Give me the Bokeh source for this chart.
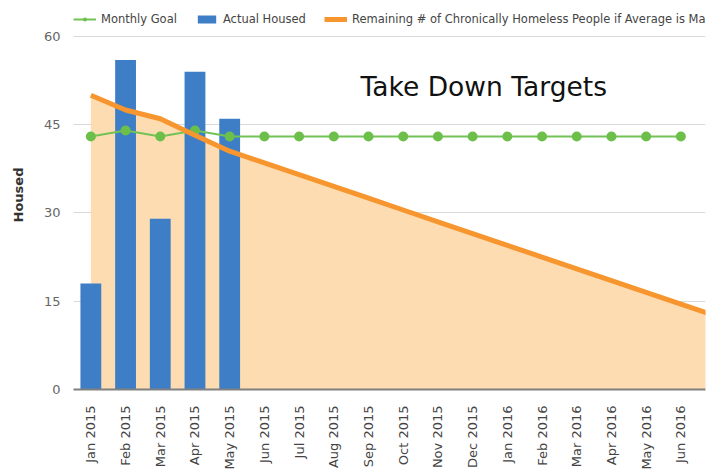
import math
from bokeh.plotting import figure
from bokeh.models import Range1d, Legend, LegendItem, Label, FixedTicker
from bokeh.embed import file_html
from bokeh.resources import INLINE

months = ["Jan 2015", "Feb 2015", "Mar 2015", "Apr 2015", "May 2015", "Jun 2015",
          "Jul 2015", "Aug 2015", "Sep 2015", "Oct 2015", "Nov 2015", "Dec 2015",
          "Jan 2016", "Feb 2016", "Mar 2016", "Apr 2016", "May 2016", "Jun 2016"]
monthly_goal = [43, 44, 43, 44, 43, 43, 43, 43, 43, 43, 43, 43, 43, 43, 43, 43, 43, 43]
actual_housed = [18, 56, 29, 54, 46]
# remaining chronically homeless (last value continues past the visible edge)
remaining = [50, 47.5, 46, 43.2, 40.5, 38.5, 36.5, 34.5, 32.5, 30.5, 28.5, 26.5,
             24.5, 22.5, 20.5, 18.5, 16.5, 14.5, 12.5]
y_ticks = [0, 15, 30, 45, 60]

FONT = "DejaVu Sans"

# the frame reaches the top of the canvas so the legend (drawn inside it) shows above the 60 line
p = figure(width=711, height=472, output_backend="svg", toolbar_location=None,
           x_range=Range1d(-0.5, 17.71), y_range=Range1d(0, 66.1),
           min_border_left=73, min_border_right=6, min_border_top=0,
           min_border_bottom=81)
p.outline_line_color = None

x_rem = list(range(len(remaining)))
x_goal = list(range(len(monthly_goal)))
x_act = list(range(len(actual_housed)))

p.varea(x=x_rem, y1=[0] * len(remaining), y2=remaining, fill_color="#fddcb2")
bars = p.vbar(x=x_act, top=actual_housed, width=0.6, fill_color="#3d7ec6", line_color=None)
gl = p.line(x=x_goal, y=monthly_goal, line_color="#72c255", line_width=2)
gc = p.scatter(x=x_goal, y=monthly_goal, size=10, fill_color="#6cc04a", line_color=None)
ol = p.line(x=x_rem, y=remaining, line_color="#f7962e", line_width=5)

p.xaxis.ticker = FixedTicker(ticks=list(range(len(months))))
p.xaxis.major_label_overrides = {i: m for i, m in enumerate(months)}
p.xaxis.major_label_orientation = math.pi / 2
p.xaxis.major_label_text_font = FONT
p.xaxis.major_label_text_font_size = "13px"
p.xaxis.major_label_text_color = "#444444"
p.xaxis.major_tick_line_color = None
p.xaxis.major_tick_out = 0
p.xaxis.major_tick_in = 0
p.xaxis.minor_tick_line_color = None
p.xaxis.axis_line_color = "#808080"
p.xaxis.axis_line_width = 2
p.xaxis.major_label_standoff = 16

p.yaxis.ticker = FixedTicker(ticks=y_ticks)
p.yaxis.axis_line_color = None
p.yaxis.major_tick_line_color = None
p.yaxis.major_tick_out = 0
p.yaxis.major_tick_in = 0
p.yaxis.minor_tick_line_color = None
p.yaxis.major_label_text_font = FONT
p.yaxis.major_label_text_font_size = "13px"
p.yaxis.major_label_text_color = "#666666"
p.yaxis.major_label_standoff = 13
p.yaxis.axis_label = "Housed"
p.yaxis.axis_label_text_font = FONT
p.yaxis.axis_label_text_font_size = "13px"
p.yaxis.axis_label_text_font_style = "bold"
p.yaxis.axis_label_text_color = "#333333"
p.yaxis.axis_label_standoff = 15

p.xgrid.grid_line_color = None
p.ygrid.grid_line_color = "#d9d9d9"

title = Label(x=7.77, y=51.55, text="Take Down Targets", text_font=FONT,
              text_font_size="26.5px", text_color="#111111", text_baseline="middle")
p.add_layout(title)

legend = Legend(items=[
    LegendItem(label="Monthly Goal", renderers=[gl, gc]),
    LegendItem(label="Actual Housed", renderers=[bars]),
    LegendItem(label="Remaining # of Chronically Homeless People if Average is Mai", renderers=[ol]),
], orientation="horizontal", location=(0, 363), label_text_font=FONT,
    label_text_font_size="11.5px", label_text_color="#444444", glyph_width=23,
    glyph_height=10, spacing=18, label_standoff=5, padding=0, margin=0,
    border_line_color=None, background_fill_alpha=0)
p.add_layout(legend)

open("out.html", "w").write(file_html(p, INLINE))
